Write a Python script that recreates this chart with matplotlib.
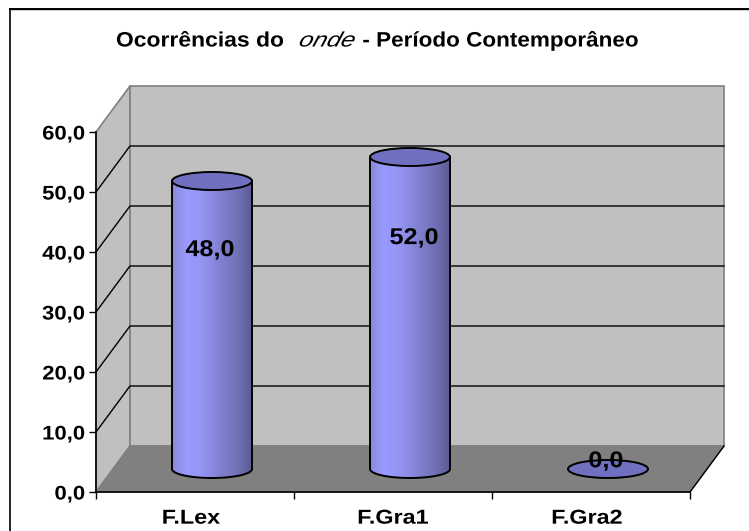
import numpy as np
import matplotlib
matplotlib.use("Agg")
import matplotlib.pyplot as plt
from matplotlib.colors import LinearSegmentedColormap
from matplotlib.lines import Line2D
from matplotlib.patches import Ellipse, PathPatch, Polygon
from matplotlib.path import Path
from matplotlib.patheffects import AbstractPathEffect
from matplotlib.transforms import Affine2D

categorias = ["F.Lex", "F.Gra1", "F.Gra2"]
valores = [48.0, 52.0, 0.0]
y_ticks = [0, 10, 20, 30, 40, 50, 60]

W, H = 749, 531
FONT = "Liberation Sans"


# estira el texto en horizontal: el Arial del original sale mucho mas ancho
class Estirar(AbstractPathEffect):
    def __init__(self, fx, ancla=0.5, shear=0):
        super().__init__()
        self.fx = fx
        self.ancla = ancla
        self.shear = shear

    def draw_path(self, renderer, gc, tpath, affine, rgbFace=None):
        ext = tpath.get_extents()
        x0 = ext.x0 + self.ancla * ext.width
        t = Affine2D().translate(-x0, 0).skew(np.arctan(self.shear), 0).scale(self.fx, 1).translate(x0, 0) + affine
        renderer.draw_path(gc, tpath, t, rgbFace)


fig = plt.figure(figsize=(W / 100, H / 100), dpi=100, facecolor="white")

# el borde del grafico solo se ve arriba y a la izquierda
fig.add_artist(Line2D([10 / W, 1], [1 - 10 / H, 1 - 10 / H], color="#c0c0c0", lw=1.2))
fig.add_artist(Line2D([9.5 / W, 1], [1 - 8.5 / H, 1 - 8.5 / H], color="black", lw=1.4))
fig.add_artist(Line2D([9.5 / W, 9.5 / W], [0, 1 - 8.5 / H], color="black", lw=1.2))

ax = fig.add_axes([96 / W, (H - 492) / H, 594 / W, 360 / H])
ax.set_xlim(0, 3)
ax.set_ylim(0, 60)
ax.patch.set_visible(False)

# profundidad del 3D, en unidades de datos
dx = 34 / 198
dy = 46 / 6
ymax = y_ticks[-1]
gris = "#808080"

ax.add_patch(Polygon([(0, 0), (dx, dy), (dx, ymax + dy), (0, ymax)], fc="#c0c0c0", ec=gris, lw=1.2, clip_on=False, zorder=1))
ax.add_patch(Polygon([(dx, dy), (3 + dx, dy), (3 + dx, ymax + dy), (dx, ymax + dy)], fc="#c0c0c0", ec=gris, lw=1.2, clip_on=False, zorder=1))
ax.add_patch(Polygon([(0, 0), (3, 0), (3 + dx, dy), (dx, dy)], fc=gris, ec=gris, lw=1, clip_on=False, zorder=1.5))
ax.plot([3, 3 + dx], [0, dy], color="black", lw=1, clip_on=False, zorder=2)

# lineas de la grilla, pared lateral y fondo
for v in y_ticks[1:-1]:
    ax.plot([0, dx, 3 + dx], [v, v + dy, v + dy], color="black", lw=1, clip_on=False, zorder=2)

# cilindros
media_anchura = 40 / 198
media_altura = 9 / 6
colores = ["#8a8ad8", "#9999ff", "#9696f6", "#8a8ae2", "#7c7cc8", "#7070b4", "#5c5c96"]
cmap = LinearSegmentedColormap.from_list("cil", colores)
grad = np.linspace(0, 1, 64).reshape(1, -1)
tapa = "#7070c0"

for i, v in enumerate(valores):
    xc = i + 0.5 + dx / 2
    y0 = dy / 2
    y1 = y0 + v
    if v > 0:
        # contorno del cuerpo: lados rectos y semielipse inferior
        t = np.linspace(np.pi, 2 * np.pi, 40)
        xs = xc + media_anchura * np.cos(t)
        ys = y0 + media_altura * np.sin(t)
        verts = [(xc - media_anchura, y1)] + list(zip(xs, ys)) + [(xc + media_anchura, y1)]
        cuerpo = PathPatch(Path(verts + [verts[0]]), fc="none", ec="black", lw=1.4, clip_on=False, zorder=4)
        ax.add_patch(cuerpo)
        img = ax.imshow(grad, cmap=cmap, extent=(xc - media_anchura, xc + media_anchura, y0 - media_altura, y1),
                        aspect="auto", zorder=3, interpolation="bilinear")
        img.set_clip_path(cuerpo)
    ax.add_patch(Ellipse((xc, y1), 2 * media_anchura, 2 * media_altura, fc=tapa, ec="black", lw=1.4, clip_on=False, zorder=5))

ax.set_xlim(0, 3)
ax.set_ylim(0, 60)

# etiquetas de los valores
ajuste_x = [-2 / 198, 4 / 198, -2 / 198]
ajuste_y = [-7.6, -9.6, 5.2]
for i, v in enumerate(valores):
    ax.text(i + 0.5 + dx / 2 + ajuste_x[i], v + ajuste_y[i], f"{v:.1f}".replace(".", ","), ha="center", va="center",
            fontfamily=FONT, fontweight="bold", fontsize=16.5, color="black", zorder=6, clip_on=False,
            path_effects=[Estirar(1.1)])

# ejes
for s in ["top", "right"]:
    ax.spines[s].set_visible(False)
for s in ["left", "bottom"]:
    ax.spines[s].set_linewidth(1.2)
    ax.spines[s].set_zorder(7)
ax.set_yticks(y_ticks)
ax.set_yticklabels([f"{v:.1f}".replace(".", ",") for v in y_ticks], fontfamily=FONT, fontweight="bold", fontsize=14.2,
                   path_effects=[Estirar(1.12, ancla=1)])
ax.set_xticks([0, 1, 2, 3])
ax.set_xticklabels([])
ax.tick_params(axis="both", which="major", length=5, width=1, pad=3)
ax.set_xticks([0.48, 1.5, 2.48], minor=True)
ax.set_xticklabels(categorias, minor=True, fontfamily=FONT, fontweight="bold", fontsize=14.5,
                   path_effects=[Estirar(1.16)])
ax.tick_params(axis="x", which="minor", length=0, pad=12)

# titulo en tres trozos porque "onde" va en cursiva ancha
fig.text(116 / W, 1 - 41 / H, "Ocorrências do", fontfamily=FONT, fontweight="bold", fontsize=15, ha="left", va="center",
         path_effects=[Estirar(1.1, ancla=0)])
fig.text(298 / W, 1 - 41 / H, "onde", fontfamily=FONT, fontstyle="italic", fontsize=15, ha="left", va="center",
         path_effects=[Estirar(1.2, ancla=0, shear=0.25)])
fig.text(640 / W, 1 - 41 / H, "- Período Contemporâneo", fontfamily=FONT, fontweight="bold", fontsize=15, ha="right", va="center",
         path_effects=[Estirar(1.08, ancla=1)])

fig.savefig("out.png", dpi=100)
